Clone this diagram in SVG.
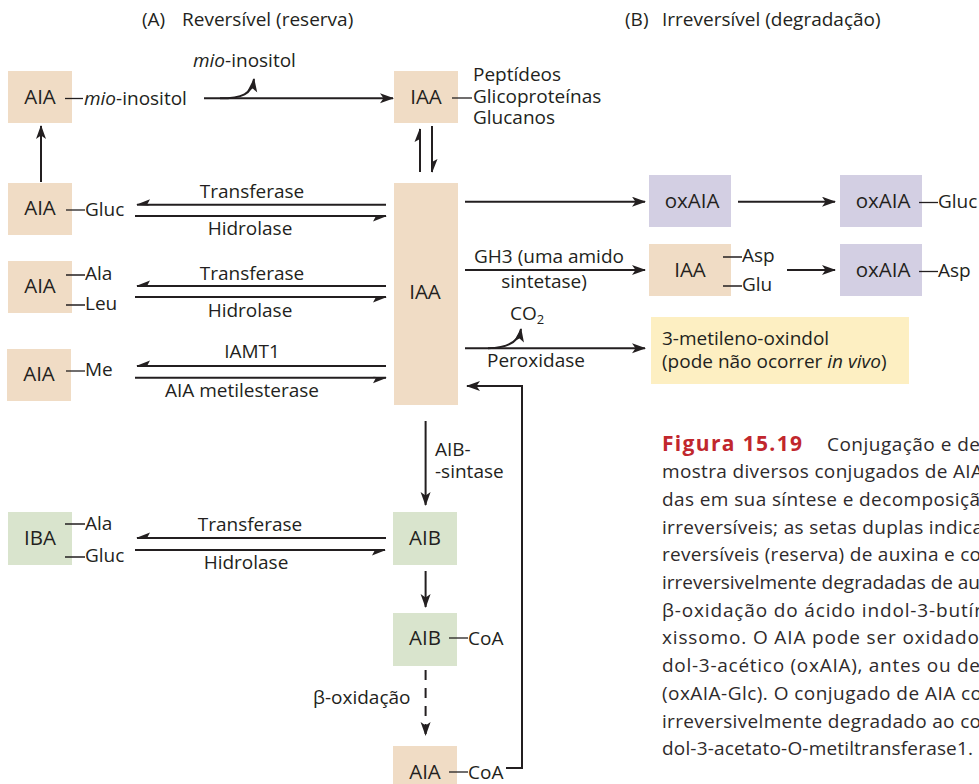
<svg xmlns="http://www.w3.org/2000/svg" width="979" height="784" viewBox="0 0 979 784">
<defs>
<style>
text{font-family:'Open Sans','Noto Sans','DejaVu Sans',sans-serif;font-size:19px;fill:#231f20}
.peach{fill:#f0dcc5}
.lav{fill:#d3cfe3}
.green{fill:#d9e4cd}
.yel{fill:#fdefc2}
.c{text-anchor:middle}
.bx{text-anchor:middle;font-size:20.5px}
.ln{stroke:#231f20;stroke-width:2;fill:none}
.dl{stroke:#231f20;stroke-width:1.3;fill:none}
.cap{fill:#2e2a2b}
.fig{font-weight:bold;fill:#c1272d;font-size:21px}
.it{font-style:italic}
</style>
<marker id="arr" markerUnits="userSpaceOnUse" markerWidth="16" markerHeight="12" refX="13" refY="5" orient="auto"><path d="M0,0 L14,5 L0,10 L3.5,5 Z" fill="#231f20"/></marker>
<marker id="hpos" markerUnits="userSpaceOnUse" markerWidth="16" markerHeight="13" refX="13" refY="6" orient="auto"><path d="M14,6 L0,11.5 L3,6 L0,5 Z" fill="#231f20"/></marker>
<marker id="hneg" markerUnits="userSpaceOnUse" markerWidth="16" markerHeight="13" refX="13" refY="6" orient="auto"><path d="M14,6 L0,0.5 L3,6 L0,7 Z" fill="#231f20"/></marker>
</defs>
<rect width="979" height="784" fill="#ffffff"/>

<g id="headers">
<text x="142" y="26">(A)</text><text x="182" y="26">Reversível (reserva)</text>
<text x="625" y="26">(B)</text><text x="662" y="26">Irreversível (degradação)</text>
</g>

<g id="n_aia_mio">
<rect class="peach" x="8" y="71" width="64" height="52"/>
<text class="bx" x="40" y="104">AIA</text>
<path class="dl" d="M65,98.5 H83"/>
<text x="84" y="105"><tspan class="it">mio</tspan>-inositol</text>
</g>

<g id="n_iaa_top">
<rect class="peach" x="394" y="71" width="64" height="52"/>
<text class="bx" x="426" y="104">IAA</text>
<path class="dl" d="M452,98 H472"/>
<text x="473" y="81">Peptídeos</text>
<text x="473" y="103">Glicoproteínas</text>
<text x="473" y="124">Glucanos</text>
</g>

<g id="n_aia_gluc">
<rect class="peach" x="8" y="183" width="64" height="52"/>
<text class="bx" x="40" y="215">AIA</text>
<path class="dl" d="M66,210 H85"/>
<text x="85" y="216">Gluc</text>
</g>

<g id="n_aia_alaleu">
<rect class="peach" x="8" y="261" width="64" height="52"/>
<text class="bx" x="40" y="293">AIA</text>
<path class="dl" d="M66,275 H85 M66,305 H85"/>
<text x="85" y="280">Ala</text>
<text x="85" y="310">Leu</text>
</g>

<g id="n_aia_me">
<rect class="peach" x="7" y="349" width="64" height="52"/>
<text class="bx" x="39" y="381">AIA</text>
<path class="dl" d="M66,371 H85"/>
<text x="85" y="376">Me</text>
</g>

<g id="n_iaa_main">
<rect class="peach" x="394" y="183" width="64" height="222"/>
<text class="bx" x="425" y="299">IAA</text>
</g>

<g id="n_oxaia1">
<rect class="lav" x="649" y="175" width="82" height="52"/>
<text class="bx" x="692" y="208">oxAIA</text>
</g>

<g id="n_oxaia_gluc">
<rect class="lav" x="840" y="175" width="82" height="52"/>
<text class="bx" x="883" y="208">oxAIA</text>
<path class="dl" d="M919,202.5 H938"/>
<text x="938" y="208">Gluc</text>
</g>

<g id="n_iaa_aspglu">
<rect class="peach" x="649" y="244" width="82" height="52"/>
<text class="bx" x="690" y="277">IAA</text>
<path class="dl" d="M723,257 H742 M723,286 H742"/>
<text x="742" y="262">Asp</text>
<text x="742" y="291">Glu</text>
</g>

<g id="n_oxaia_asp">
<rect class="lav" x="840" y="244" width="82" height="52"/>
<text class="bx" x="883" y="277">oxAIA</text>
<path class="dl" d="M919,271.5 H938"/>
<text x="938" y="277">Asp</text>
</g>

<g id="n_metileno">
<rect class="yel" x="651" y="317" width="258" height="67"/>
<text x="662" y="345">3-metileno-oxindol</text>
<text x="662" y="368">(pode não ocorrer <tspan class="it">in vivo</tspan>)</text>
</g>

<g id="n_iba">
<rect class="green" x="8" y="512" width="64" height="53"/>
<text class="bx" x="40" y="545">IBA</text>
<path class="dl" d="M65,524 H85 M65,557 H85"/>
<text x="85" y="530">Ala</text>
<text x="85" y="562">Gluc</text>
</g>

<g id="n_aib">
<rect class="green" x="393" y="512" width="64" height="53"/>
<text class="bx" x="425" y="545">AIB</text>
</g>

<g id="n_aib_coa">
<rect class="green" x="393" y="613" width="64" height="53"/>
<text class="bx" x="425" y="645">AIB</text>
<path class="dl" d="M449,638 H468"/>
<text x="468" y="645">CoA</text>
</g>

<g id="n_aia_coa">
<rect class="peach" x="393" y="746" width="64" height="40"/>
<text class="bx" x="425" y="779">AIA</text>
<path class="dl" d="M449,772 H468"/>
<text x="468" y="779">CoA</text>
</g>

<g id="connectors">
<path class="ln" d="M204,98.3 H393" marker-end="url(#arr)"/>
<path class="ln" d="M220,98.3 C242,98.3 252,94 254,79" marker-end="url(#arr)"/>
<text x="193" y="67"><tspan class="it">mio</tspan>-inositol</text>
<path class="ln" d="M41,182 V126" marker-end="url(#arr)"/>
<path class="ln" d="M420,172 V129" marker-end="url(#hneg)"/>
<path class="ln" d="M432,126 V172" marker-end="url(#hneg)"/>

<path class="ln" d="M386,204.7 H137" marker-end="url(#hpos)"/>
<path class="ln" d="M135,216 H386" marker-end="url(#hpos)"/>
<text class="c" x="252" y="198">Transferase</text>
<text class="c" x="250" y="235">Hidrolase</text>

<path class="ln" d="M386,286 H137" marker-end="url(#hpos)"/>
<path class="ln" d="M135,297 H386" marker-end="url(#hpos)"/>
<text class="c" x="252" y="280">Transferase</text>
<text class="c" x="250" y="317">Hidrolase</text>

<path class="ln" d="M386,366 H137" marker-end="url(#hpos)"/>
<path class="ln" d="M135,377.7 H386" marker-end="url(#hpos)"/>
<text class="c" x="252" y="358">IAMT1</text>
<text class="c" x="242" y="397">AIA metilesterase</text>

<path class="ln" d="M465,201.7 H645" marker-end="url(#arr)"/>
<path class="ln" d="M738,201.7 H835" marker-end="url(#arr)"/>

<path class="ln" d="M465,270 H645" marker-end="url(#arr)"/>
<text class="c" x="549" y="263">GH3 (uma amido</text>
<text class="c" x="544" y="288">sintetase)</text>
<path class="ln" d="M787,270 H835" marker-end="url(#arr)"/>

<path class="ln" d="M465,348.3 H645" marker-end="url(#arr)"/>
<path class="ln" d="M488,348.3 C508,348 519,342 521,329" marker-end="url(#arr)"/>
<text x="510" y="320">CO<tspan font-size="13" dy="4">2</tspan></text>
<text x="487" y="367">Peroxidase</text>

<path class="ln" d="M506,768 H522 V386 H467" marker-end="url(#arr)"/>

<path class="ln" d="M425.6,421 V505" marker-end="url(#arr)"/>
<text x="435" y="456">AIB-</text>
<text x="435" y="478">-sintase</text>

<path class="ln" d="M386,538 H137" marker-end="url(#hpos)"/>
<path class="ln" d="M135,550 H385" marker-end="url(#hpos)"/>
<text class="c" x="250" y="531">Transferase</text>
<text class="c" x="246" y="569">Hidrolase</text>

<path class="ln" d="M425.6,571 V607" marker-end="url(#arr)"/>
<path class="ln" d="M425.6,670 V735" stroke-dasharray="10 8" marker-end="url(#arr)"/>
<text x="313" y="704">β-oxidação</text>
</g>

<g id="caption">
<text class="fig" x="662" y="450.5" textLength="140" lengthAdjust="spacing">Figura 15.19</text>
<text class="cap" x="827" y="450.5" textLength="153" lengthAdjust="spacing">Conjugação e de</text>
<text class="cap" x="662" y="478.2" textLength="321" lengthAdjust="spacing">mostra diversos conjugados de AIA</text>
<text class="cap" x="662" y="505.9" textLength="318" lengthAdjust="spacing">das em sua síntese e decomposiçã</text>
<text class="cap" x="662" y="533.6" textLength="321" lengthAdjust="spacing">irreversíveis; as setas duplas indica</text>
<text class="cap" x="662" y="561.3" textLength="319" lengthAdjust="spacing">reversíveis (reserva) de auxina e co</text>
<text class="cap" x="662" y="589" textLength="318" lengthAdjust="spacing">irreversivelmente degradadas de au</text>
<text class="cap" x="662" y="616.7" textLength="320" lengthAdjust="spacing">β-oxidação do ácido indol-3-butír</text>
<text class="cap" x="662" y="644.4" textLength="317" lengthAdjust="spacing">xissomo. O AIA pode ser oxidado</text>
<text class="cap" x="662" y="672.1" textLength="318" lengthAdjust="spacing">dol-3-acético (oxAIA), antes ou de</text>
<text class="cap" x="662" y="699.8" textLength="320" lengthAdjust="spacing">(oxAIA-Glc). O conjugado de AIA co</text>
<text class="cap" x="662" y="727.5" textLength="319" lengthAdjust="spacing">irreversivelmente degradado ao co</text>
<text class="cap" x="662" y="755.2" textLength="311" lengthAdjust="spacing">dol-3-acetato-O-metiltransferase1.</text>
</g>
</svg>
